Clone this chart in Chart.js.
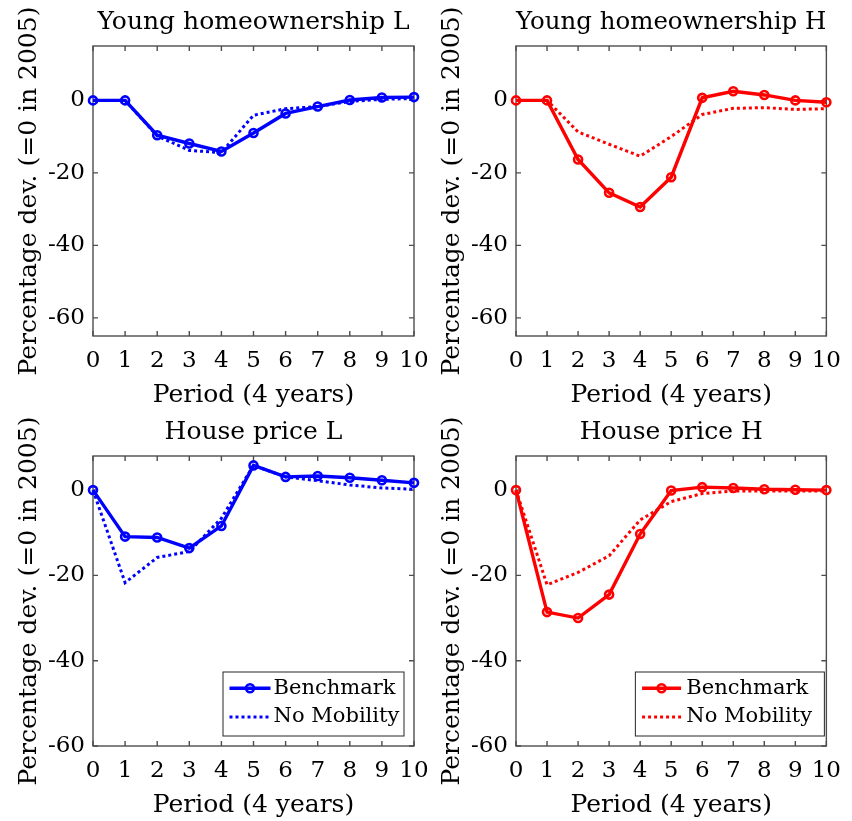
<!DOCTYPE html>
<html>
<head>
<meta charset="utf-8">
<title>Young homeownership and house prices</title>
<script src="https://cdn.jsdelivr.net/npm/chart.js@4.4.0/dist/chart.umd.min.js"></script>
<style>
  html, body { margin: 0; padding: 0; background: #fff; }
  #wrap { position: relative; width: 852px; height: 821px; overflow: hidden; }
  #wrap canvas { position: absolute; }
</style>
</head>
<body>
<div id="wrap">
  <canvas id="c-own-l"></canvas>
  <canvas id="c-own-h"></canvas>
  <canvas id="c-price-l"></canvas>
  <canvas id="c-price-h"></canvas>
</div>
<script>
// ---- data ----
const periods = [0, 1, 2, 3, 4, 5, 6, 7, 8, 9, 10];

const ownLBench = [0, 0, -9.6, -11.9, -14.1, -9.0, -3.6, -1.7, 0.1, 0.8, 0.9];
const ownLNoMob = [0, 0, -9.8, -13.8, -14.4, -4.1, -2.3, -1.7, -0.3, 0.3, 0.5];
const ownHBench = [0, 0, -16.3, -25.5, -29.4, -21.2, 0.7, 2.5, 1.5, 0, -0.5];
const ownHNoMob = [0, 0, -8.7, -12.1, -15.4, -10.0, -3.9, -2.2, -2.0, -2.5, -2.3];

const priceLBench = [0, -10.9, -11.1, -13.6, -8.4, 5.8, 3.1, 3.3, 2.9, 2.3, 1.7];
const priceLNoMob = [0, -21.7, -15.8, -14.4, -6.6, 5.8, 3.1, 2.2, 1.2, 0.5, 0.2];
const priceHBench = [0, -28.6, -30.0, -24.5, -10.3, -0.1, 0.7, 0.5, 0.2, 0.1, 0];
const priceHNoMob = [0, -22.2, -19.3, -15.4, -7.0, -2.7, -0.8, -0.2, -0.2, -0.2, -0.2];

const yTicks = [-60, -40, -20, 0];
const ownRange = [-65, 15];
const priceRange = [-60, 8];

const seriesNames = ['Benchmark', 'No Mobility'];
const xTitle = 'Period (4 years)';
const yTitle = 'Percentage dev. (=0 in 2005)';

const FONT = "'DejaVu Serif', 'Liberation Serif', serif";
const TITLE_SIZE = 25;   // panel titles and axis titles
const TICK_SIZE = 23;
const LEGEND_SIZE = 21;
const BLUE = '#0000ff';
const RED = '#ff0000';

// box around the plot area with inward ticks on all four sides
const boxTicks = {
  id: 'boxTicks',
  beforeDatasetsDraw(chart) {
    const { ctx, chartArea: a, scales: { x, y } } = chart;
    const len = 5;
    ctx.save();
    ctx.strokeStyle = '#4d4d4d';
    ctx.lineWidth = 1.4;
    ctx.strokeRect(a.left, a.top, a.right - a.left, a.bottom - a.top);
    ctx.beginPath();
    x.ticks.forEach(t => {
      const px = x.getPixelForValue(t.value);
      ctx.moveTo(px, a.bottom); ctx.lineTo(px, a.bottom - len);
      ctx.moveTo(px, a.top); ctx.lineTo(px, a.top + len);
    });
    y.ticks.forEach(t => {
      const py = y.getPixelForValue(t.value);
      ctx.moveTo(a.left, py); ctx.lineTo(a.left + len, py);
      ctx.moveTo(a.right, py); ctx.lineTo(a.right - len, py);
    });
    ctx.stroke();
    ctx.restore();
  }
};

// matlab-like legend box in the lower right corner
const boxLegend = {
  id: 'boxLegend',
  afterDatasetsDraw(chart, args, opts) {
    if (!opts.show) return;
    const { ctx, chartArea: a } = chart;
    const left = a.right - opts.right - opts.width;
    const top = a.bottom - opts.bottom - opts.height;
    ctx.save();
    ctx.fillStyle = '#fff';
    ctx.fillRect(left, top, opts.width, opts.height);
    ctx.strokeStyle = '#262626';
    ctx.lineWidth = 1;
    ctx.strokeRect(left, top, opts.width, opts.height);
    ctx.font = LEGEND_SIZE + 'px ' + FONT;
    ctx.textBaseline = 'middle';
    chart.data.datasets.forEach((ds, i) => {
      const cy = top + opts.rowTop + i * opts.rowGap;
      const x0 = left + opts.lineStart, x1 = left + opts.lineEnd;
      ctx.strokeStyle = ds.borderColor;
      ctx.lineWidth = ds.borderWidth;
      ctx.setLineDash(ds.borderDash || []);
      ctx.beginPath(); ctx.moveTo(x0, cy); ctx.lineTo(x1, cy); ctx.stroke();
      ctx.setLineDash([]);
      if (ds.pointRadius > 0) {
        ctx.lineWidth = ds.pointBorderWidth;
        ctx.beginPath(); ctx.arc((x0 + x1) / 2, cy, ds.pointRadius, 0, Math.PI * 2); ctx.stroke();
      }
      ctx.fillStyle = '#000';
      ctx.fillText(ds.label, left + opts.textStart, cy);
    });
    ctx.restore();
  }
};

const toXY = arr => periods.map((p, i) => ({ x: p, y: arr[i] }));

function makePanel(id, p) {
  const canvas = document.getElementById(id);
  canvas.width = p.cw; canvas.height = p.ch;
  canvas.style.left = p.cx + 'px'; canvas.style.top = p.cy + 'px';

  const titleFont = { family: FONT, size: TITLE_SIZE, weight: 'normal', lineHeight: 1.2 };
  const tickFont = { family: FONT, size: TICK_SIZE, weight: 'normal', lineHeight: 1.2 };
  const half = TITLE_SIZE * 1.2 / 2;
  const yWidth = p.areaLeft - p.cx;
  const xHeight = p.cy + p.ch - p.areaBottom;
  const titleBox = p.areaTop - p.cy;
  const titleTop = (p.titleY - p.cy) - half;

  return new Chart(canvas, {
    type: 'line',
    data: {
      datasets: [
        {
          label: seriesNames[0], data: toXY(p.bench),
          borderColor: p.color, borderWidth: 3.4, tension: 0, clip: false,
          pointRadius: 4, pointBorderWidth: 2.6,
          pointBorderColor: p.color, pointBackgroundColor: 'rgba(0,0,0,0)'
        },
        {
          label: seriesNames[1], data: toXY(p.noMob),
          borderColor: p.color, borderWidth: 3, borderDash: [3, 3], tension: 0, clip: false,
          pointRadius: 0
        }
      ]
    },
    options: {
      responsive: false,
      animation: false,
      layout: { padding: { left: 0, top: 0, bottom: 0, right: p.cx + p.cw - p.areaRight } },
      plugins: {
        legend: { display: false },
        tooltip: { enabled: false },
        title: {
          display: true, fullSize: false, text: p.title, color: '#000', font: titleFont,
          padding: { top: titleTop, bottom: titleBox - titleTop - 2 * half }
        },
        boxLegend: p.legend || { show: false }
      },
      scales: {
        x: {
          type: 'linear', min: 0, max: 10,
          afterBuildTicks: s => { s.ticks = periods.map(v => ({ value: v })); },
          afterFit: s => { s.height = xHeight; },
          grid: { display: false, drawTicks: false },
          border: { display: false },
          ticks: { color: '#000', font: tickFont, padding: 11, maxRotation: 0, autoSkip: false },
          title: { display: true, text: xTitle, color: '#000', font: titleFont,
                   padding: { top: 0, bottom: (p.cy + p.ch - p.xTitleY) - half } }
        },
        y: {
          min: p.range[0], max: p.range[1],
          afterBuildTicks: s => { s.ticks = yTicks.map(v => ({ value: v })); },
          afterFit: s => { s.width = yWidth; },
          grid: { display: false, drawTicks: false },
          border: { display: false },
          ticks: { color: '#000', font: tickFont, padding: 8 },
          title: { display: true, text: yTitle, color: '#000', font: titleFont,
                   padding: { top: (p.yTitleX - p.cx) - half, bottom: 0 } }
        }
      }
    },
    plugins: [boxTicks, boxLegend]
  });
}

makePanel('c-own-l', {
  cx: 0, cy: 0, cw: 440, ch: 410,
  areaLeft: 93, areaRight: 414, areaTop: 46, areaBottom: 336,
  titleY: 22, yTitleX: 29, xTitleY: 395,
  title: 'Young homeownership L', color: BLUE, range: ownRange,
  bench: ownLBench, noMob: ownLNoMob
});
makePanel('c-own-h', {
  cx: 412, cy: 0, cw: 440, ch: 410,
  areaLeft: 516, areaRight: 836, areaTop: 46, areaBottom: 336,
  titleY: 22, yTitleX: 452, xTitleY: 395,
  title: 'Young homeownership H', color: RED, range: ownRange,
  bench: ownHBench, noMob: ownHNoMob
});
makePanel('c-price-l', {
  cx: 0, cy: 410, cw: 440, ch: 411,
  areaLeft: 93, areaRight: 414, areaTop: 456, areaBottom: 746,
  titleY: 432, yTitleX: 29, xTitleY: 805,
  title: 'House price L', color: BLUE, range: priceRange,
  bench: priceLBench, noMob: priceLNoMob,
  legend: { show: true, right: 10, bottom: 10, width: 181, height: 64, lineStart: 6.5, lineEnd: 47.5, textStart: 50.6, rowTop: 16.3, rowGap: 28.7 }
});
makePanel('c-price-h', {
  cx: 412, cy: 410, cw: 440, ch: 411,
  areaLeft: 516, areaRight: 836, areaTop: 456, areaBottom: 746,
  titleY: 432, yTitleX: 452, xTitleY: 805,
  title: 'House price H', color: RED, range: priceRange,
  bench: priceHBench, noMob: priceHNoMob,
  legend: { show: true, right: 2, bottom: 10, width: 189, height: 64, lineStart: 6.7, lineEnd: 45.7, textStart: 51, rowTop: 16.3, rowGap: 28.7 }
});
</script>
</body>
</html>
